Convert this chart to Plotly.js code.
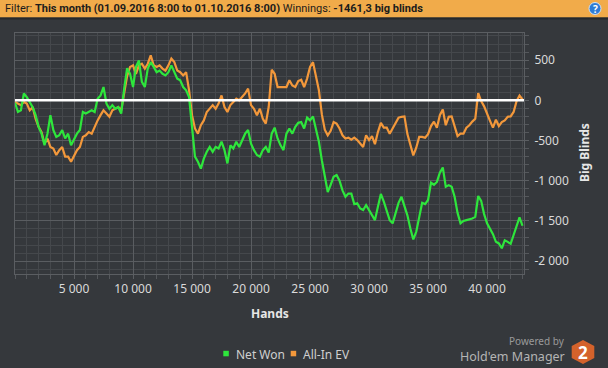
<!DOCTYPE html>
<html>
<head>
<meta charset="utf-8">
<script src="https://cdn.plot.ly/plotly-3.0.1.min.js"></script>
<style>
html,body{margin:0;padding:0;background:#35383c;}
#chart{width:608px;height:368px;}
</style>
</head>
<body>
<div id="chart"></div>
<script>
// ---- data ----
var handStep = 250;
var netWon = [-30,-145,-125,85,40,-20,-85,-185,-330,-415,-560,-415,-185,-370,-455,-435,-370,-475,-415,-560,
-495,-415,-370,-145,-165,-145,-125,-145,20,60,165,-40,-105,-60,-105,-85,-165,145,400,330,
165,415,495,230,165,395,475,415,350,370,330,310,350,435,350,270,250,165,125,40,
-330,-700,-765,-850,-725,-640,-580,-640,-580,-600,-515,-620,-785,-560,-600,-515,-580,-495,-415,-370,
-540,-620,-680,-700,-620,-580,-650,-415,-340,-475,-560,-620,-415,-350,-415,-330,-280,-270,-350,-215,
-250,-200,-350,-515,-745,-970,-1140,-1050,-950,-930,-1000,-1120,-1200,-1160,-1160,-1290,-1280,-1345,-1365,-1305,
-1365,-1440,-1490,-1325,-1165,-1260,-1385,-1490,-1530,-1385,-1275,-1200,-1305,-1430,-1595,-1730,-1635,-1470,-1275,-1290,
-1240,-1025,-1050,-1015,-900,-835,-1075,-1055,-1075,-1200,-1400,-1530,-1500,-1490,-1480,-1470,-1450,-1190,-1250,-1415,
-1530,-1595,-1665,-1760,-1780,-1840,-1740,-1760,-1785,-1675,-1550,-1455,-1560];
var allInEV = [-20,-40,-60,-20,-40,-125,-85,-230,-330,-395,-540,-475,-580,-600,-680,-620,-580,-700,-700,-765,
-700,-620,-580,-455,-435,-395,-415,-330,-250,-185,-125,-165,-205,-125,-105,-85,-125,85,300,415,
435,330,435,455,395,455,560,435,415,435,395,370,435,520,475,370,350,310,350,125,
-185,-350,-415,-310,-250,-145,-105,-60,-105,-40,60,-85,-145,-60,-20,20,0,40,85,145,
-60,-105,-185,-105,-230,-290,-80,380,330,165,165,165,165,250,185,165,240,255,165,270,
415,475,290,125,-175,-365,-435,-380,-270,-290,-350,-435,-475,-465,-490,-465,-495,-540,-580,-435,
-495,-445,-545,-395,-280,-340,-340,-415,-350,-290,-215,-205,-200,-420,-545,-685,-590,-455,-455,-465,
-420,-320,-265,-340,-185,-115,-310,-205,-200,-340,-445,-415,-415,-340,-310,-265,-230,90,-10,-75,
-155,-255,-340,-240,-320,-270,-250,-205,-200,-145,-10,60,10];
var hands = netWon.map(function(_, i){ return i * handStep; });

var xTickVals = [5000,10000,15000,20000,25000,30000,35000,40000];
var xTickText = ['5 000','10 000','15 000','20 000','25 000','30 000','35 000','40 000'];
var yTickVals = [-2000,-1500,-1000,-500,0,500];
var yTickText = ['-2 000','-1 500','-1 000','-500','0','500'];
var seriesNames = ['Net Won','All-In EV'];
var seriesColors = ['#2ee63c','#f3983b'];

// ---- helpers: pixel -> paper for decorations ----
var L = 15, R = 524, T = 33, B = 274;
function px(x){ return (x - L) / (R - L); }
function py(y){ return (B - y) / (B - T); }

var FONT = 'Noto Sans, Open Sans, sans-serif';
var HFONT = 'Roboto, Noto Sans, sans-serif';

var traces = [
  {x: hands, y: allInEV, type: 'scatter', mode: 'lines', name: seriesNames[1],
   line: {color: seriesColors[1], width: 2.2}, showlegend: false, hoverinfo: 'skip'},
  {x: hands, y: netWon, type: 'scatter', mode: 'lines', name: seriesNames[0],
   line: {color: seriesColors[0], width: 2.2}, showlegend: false, hoverinfo: 'skip'}
];

var shapes = [
  // header bar
  {type:'rect', xref:'paper', yref:'paper', x0:px(0), x1:px(608), y0:py(17.5), y1:py(0), fillcolor:'#f1ab4a', line:{width:0}, layer:'above'},
  {type:'rect', xref:'paper', yref:'paper', x0:px(0), x1:px(608), y0:py(19.5), y1:py(17.5), fillcolor:'#26282b', line:{width:0}, layer:'above'},
  // help icon
  {type:'circle', xref:'paper', yref:'paper', x0:px(589), x1:px(601), y0:py(14.5), y1:py(2.5), fillcolor:'#2d7cd6', line:{color:'#cfe0f5', width:1}, layer:'above'},
  // zero line
  {type:'line', xref:'paper', yref:'y', x0:0, x1:1, y0:0, y1:0, line:{color:'#ffffff', width:2.6}, layer:'above'},
  // legend squares
  {type:'rect', xref:'paper', yref:'paper', x0:px(223.3), x1:px(228.8), y0:py(356.3), y1:py(350.8), fillcolor:seriesColors[0], line:{width:0}},
  {type:'rect', xref:'paper', yref:'paper', x0:px(290.7), x1:px(296.2), y0:py(356.3), y1:py(350.8), fillcolor:seriesColors[1], line:{width:0}},
  // logo hexagon
  {type:'path', xref:'paper', yref:'paper',
   path: 'M '+px(583)+','+py(340)+' L '+px(594.3)+','+py(346)+' L '+px(594.3)+','+py(358)+' L '+px(583)+','+py(364)+' L '+px(571.7)+','+py(358)+' L '+px(571.7)+','+py(346)+' Z',
   fillcolor:'#d4622b', line:{width:0}}
];

var annotations = [
  {xref:'paper', yref:'paper', x:px(3), y:py(8.7), xanchor:'left', yanchor:'middle', showarrow:false,
   text:'Filter: <b>This month (01.09.2016 8:00 to 01.10.2016 8:00)</b> Winnings: <b>-1461,3 big blinds</b>',
   font:{family:HFONT, size:11, color:'#1c1c1c'}},
  {xref:'paper', yref:'paper', x:px(595), y:py(8.7), xanchor:'center', yanchor:'middle', showarrow:false,
   text:'<b>?</b>', font:{family:FONT, size:10, color:'#ffffff'}},
  {xref:'paper', yref:'paper', x:px(270), y:py(313), xanchor:'center', yanchor:'middle', showarrow:false,
   text:'<b>Hands</b>', font:{family:FONT, size:12, color:'#e6e6e6'}},
  {xref:'paper', yref:'paper', x:px(584), y:py(153), xanchor:'center', yanchor:'middle', showarrow:false, textangle:-90,
   text:'<b>Big Blinds</b>', font:{family:FONT, size:12, color:'#e6e6e6'}},
  {xref:'paper', yref:'paper', x:px(233.5), y:py(354), xanchor:'left', yanchor:'middle', showarrow:false,
   text:seriesNames[0], font:{family:FONT, size:12, color:'#cfcfcf'}},
  {xref:'paper', yref:'paper', x:px(300.5), y:py(354), xanchor:'left', yanchor:'middle', showarrow:false,
   text:seriesNames[1], font:{family:FONT, size:12, color:'#cfcfcf'}},
  {xref:'paper', yref:'paper', x:px(567), y:py(340.5), xanchor:'right', yanchor:'middle', showarrow:false,
   text:'Powered by', font:{family:FONT, size:10, color:'#9a9a9a'}},
  {xref:'paper', yref:'paper', x:px(567), y:py(356), xanchor:'right', yanchor:'middle', showarrow:false,
   text:"Hold'em Manager", font:{family:FONT, size:12.5, color:'#b4b4b4'}},
  {xref:'paper', yref:'paper', x:px(583), y:py(352), xanchor:'center', yanchor:'middle', showarrow:false,
   text:'<b>2</b>', font:{family:FONT, size:17, color:'#ffffff'}}
];

var layout = {
  width: 608, height: 368,
  margin: {l: L, r: 608 - R, t: T, b: 368 - B, pad: 0},
  paper_bgcolor: '#35383c', plot_bgcolor: '#35383c',
  showlegend: false,
  xaxis: {
    range: [0, 43130], tickmode: 'array', tickvals: xTickVals, ticktext: xTickText,
    ticks: 'outside', ticklen: 4, tickcolor: '#5b5e62', tickwidth: 1,
    showgrid: true, gridcolor: '#5a5d61', gridwidth: 1,
    minor: {tickmode: 'linear', tick0: 0, dtick: 1000, showgrid: true, gridcolor: '#45484c', gridwidth: 1,
            ticks: 'outside', ticklen: 4, tickcolor: '#55585c'},
    showline: true, linecolor: '#5b5e62', linewidth: 1, mirror: true, zeroline: false,
    tickfont: {family: FONT, size: 12, color: '#dadada'}, fixedrange: true
  },
  yaxis: {
    side: 'right', range: [-2160, 837], tickmode: 'array', tickvals: yTickVals, ticktext: yTickText,
    ticks: 'outside', ticklen: 4, tickcolor: '#5b5e62', tickwidth: 1, ticklabelstandoff: 3,
    showgrid: true, gridcolor: '#5a5d61', gridwidth: 1,
    minor: {tickmode: 'linear', tick0: 0, dtick: 100, showgrid: true, gridcolor: '#45484c', gridwidth: 1,
            ticks: 'outside', ticklen: 4, tickcolor: '#55585c'},
    showline: true, linecolor: '#5b5e62', linewidth: 1, mirror: true, zeroline: false,
    tickfont: {family: FONT, size: 12, color: '#dadada'}, fixedrange: true
  },
  shapes: shapes,
  annotations: annotations
};

Plotly.newPlot('chart', traces, layout, {displayModeBar: false, staticPlot: true});
</script>
</body>
</html>
